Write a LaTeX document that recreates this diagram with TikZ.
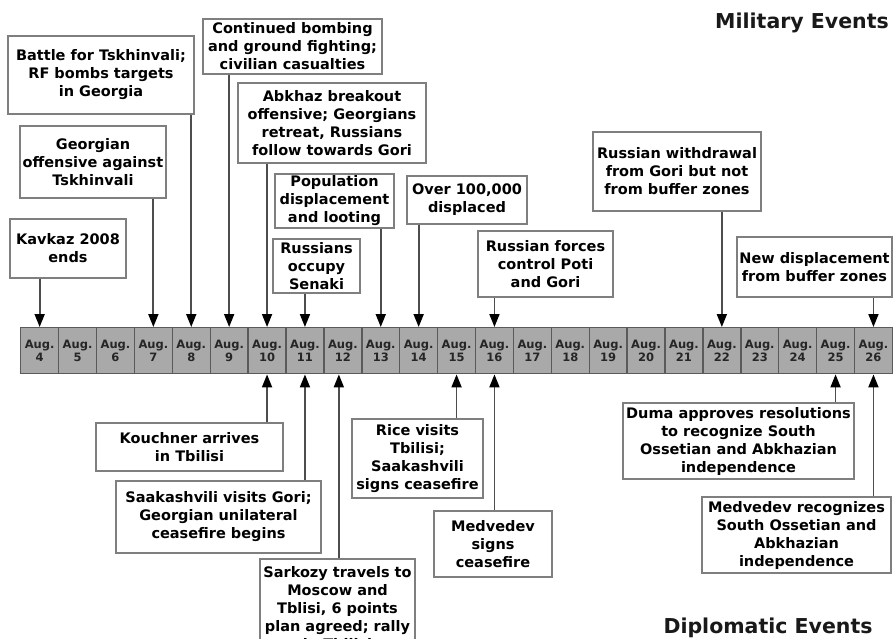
\documentclass[tikz,border=0pt]{standalone}
\usepackage{fontspec}
\setmainfont{DejaVu Sans}
\usetikzlibrary{arrows.meta}
\definecolor{boxgray}{HTML}{7F7F7F}
\definecolor{cellfill}{HTML}{A9A9A9}
\definecolor{cellborder}{HTML}{5A5A5A}
\definecolor{arrowgray}{HTML}{4D4D4D}
\tikzset{
  evbox/.style={draw=boxgray, line width=1.4pt, fill=white, align=center, inner sep=0pt,
    font=\bfseries\fontsize{14.5}{18}\selectfont, text=black},
  cell/.style={draw=cellborder, line width=1.4pt, fill=cellfill, minimum width=37.9pt,
    minimum height=46pt, inner sep=0pt, align=center, anchor=north west,
    font=\bfseries\fontsize{11.5}{13.5}\selectfont, text=black!85},
  conn/.style={draw=arrowgray, line width=1.8pt, -{Triangle[width=10pt,length=13pt,color=black]}},
  title/.style={font=\bfseries\fontsize{20.5}{24}\selectfont, text=black!90, inner sep=0pt}
}
\begin{document}
\begin{tikzpicture}[x=1pt,y=-1pt]
\path[use as bounding box] (0,0) rectangle (893,639);
\clip (0,0) rectangle (893,639);
\fill[white] (0,0) rectangle (893,639);

% timeline cells
\foreach \d [count=\i from 0] in {4,...,26}
  \node[cell] (d\d) at ({20+37.9*\i},327) {Aug.\\\d};

% titles
\node[title] (mil) at (802,23) {Military Events};
\node[title] (dip) at (768,628) {Diplomatic Events};

% military events (top)
\node[evbox, minimum width=116pt, minimum height=59pt] (kav) at (68,248.5) {Kavkaz 2008\\ends};
\node[evbox, minimum width=146pt, minimum height=72pt] (geo) at (93,162) {Georgian\\offensive against\\Tskhinvali};
\node[evbox, minimum width=186pt, minimum height=78pt] (bat) at (101,75) {Battle for Tskhinvali;\\RF bombs targets\\in Georgia};
\node[evbox, minimum width=179pt, minimum height=55pt] (con) at (292.5,46.5) {Continued bombing\\and ground fighting;\\civilian casualties};
\node[evbox, minimum width=188pt, minimum height=80pt] (abk) at (332,123) {Abkhaz breakout\\offensive; Georgians\\retreat, Russians\\follow towards Gori};
\node[evbox, minimum width=119pt, minimum height=54pt] (pop) at (334.5,201) {Population\\displacement\\and looting};
\node[evbox, minimum width=87pt, minimum height=54pt] (sen) at (316.5,266) {Russians\\occupy\\Senaki};
\node[evbox, minimum width=120pt, minimum height=48pt] (ovr) at (467,200) {Over 100,000\\displaced};
\node[evbox, minimum width=135pt, minimum height=66pt] (pot) at (545.5,264) {Russian forces\\control Poti\\and Gori};
\node[evbox, minimum width=168pt, minimum height=79pt] (wdr) at (677,171.5) {Russian withdrawal\\from Gori but not\\from buffer zones};
\node[evbox, minimum width=155pt, minimum height=60pt] (ndp) at (814.5,267) {New displacement\\from buffer zones};

% diplomatic events (bottom)
\node[evbox, minimum width=187pt, minimum height=48pt] (kou) at (189.5,447) {Kouchner arrives\\in Tbilisi};
\node[evbox, minimum width=205pt, minimum height=72pt] (saa) at (218.5,517) {Saakashvili visits Gori;\\Georgian unilateral\\ceasefire begins};
\node[evbox, minimum width=155pt, minimum height=98pt] (sar) at (337.5,608) {Sarkozy travels to\\Moscow and\\Tblisi, 6 points\\plan agreed; rally\\in Tbilisi};
\node[evbox, minimum width=131pt, minimum height=79pt] (ric) at (417.5,458.5) {Rice visits\\Tbilisi;\\Saakashvili\\signs ceasefire};
\node[evbox, minimum width=118pt, minimum height=66pt] (mvs) at (493,544) {Medvedev\\signs\\ceasefire};
\node[evbox, minimum width=231pt, minimum height=76pt] (dum) at (738.5,441) {Duma approves resolutions\\to recognize South\\Ossetian and Abkhazian\\independence};
\node[evbox, minimum width=189pt, minimum height=76pt] (mvr) at (796.5,535) {Medvedev recognizes\\South Ossetian and\\Abkhazian\\independence};

% connectors (top)
\draw[conn] (kav.south -| d4) -- (d4.north);
\draw[conn] (geo.south -| d7) -- (d7.north);
\draw[conn] (bat.south -| d8) -- (d8.north);
\draw[conn] (con.south -| d9) -- (d9.north);
\draw[conn] (abk.south -| d10) -- (d10.north);
\draw[conn] (sen.south -| d11) -- (d11.north);
\draw[conn] (pop.south -| d13) -- (d13.north);
\draw[conn] (ovr.south -| d14) -- (d14.north);
\draw[conn] (pot.south -| d16) -- (d16.north);
\draw[conn] (wdr.south -| d22) -- (d22.north);
\draw[conn] (ndp.south -| d26) -- (d26.north);

% connectors (bottom)
\coordinate (s12) at ([xshift=-4pt]d12.south);
\draw[conn] (kou.north -| d10) -- (d10.south);
\draw[conn] (saa.north -| d11) -- (d11.south);
\draw[conn] (sar.north -| s12) -- (s12);
\draw[conn] (ric.north -| d15) -- (d15.south);
\draw[conn] (mvs.north -| d16) -- (d16.south);
\draw[conn] (dum.north -| d25) -- (d25.south);
\draw[conn] (mvr.north -| d26) -- (d26.south);
\end{tikzpicture}
\end{document}
